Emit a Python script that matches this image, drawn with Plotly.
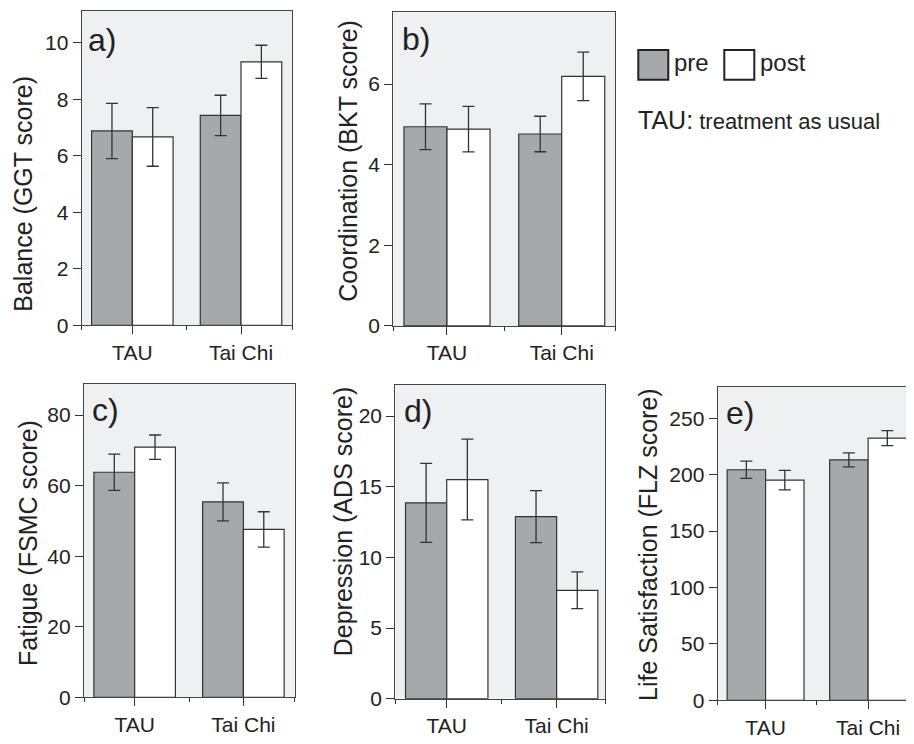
import plotly.graph_objects as go

W, H = 914, 744
OFF = 8  # page body margin compensation

categories = ["TAU", "Tai Chi"]
cat_pos = [0, 1]

# panel values: pre/post means and error half-widths
bal_pre = [6.88, 7.43]
bal_pre_err = [0.98, 0.715]
bal_post = [6.67, 9.33]
bal_post_err = [1.04, 0.585]

coo_pre = [4.94, 4.76]
coo_pre_err = [0.565, 0.44]
coo_post = [4.88, 6.19]
coo_post_err = [0.565, 0.60]

fat_pre = [63.8, 55.4]
fat_pre_err = [5.15, 5.4]
fat_post = [70.9, 47.6]
fat_post_err = [3.45, 5.0]

dep_pre = [13.86, 12.89]
dep_pre_err = [2.8, 1.84]
dep_post = [15.51, 7.67]
dep_post_err = [2.86, 1.3]

lif_pre = [204.3, 213.1]
lif_pre_err = [7.7, 6.2]
lif_post = [195.1, 232.3]
lif_post_err = [8.6, 6.7]

panels = [
    dict(label="a)", title="Balance (GGT score)", pre=bal_pre, pre_err=bal_pre_err,
         post=bal_post, post_err=bal_post_err, yr=11.13, dtick=2,
         px=(81.7, 292.3), py=(11, 330), xr=(-0.466, 1.472),
         tpos=(23, 196.5), lpos=(86, 40)),
    dict(label="b)", title="Coordination (BKT score)", pre=coo_pre, pre_err=coo_pre_err,
         post=coo_post, post_err=coo_post_err, yr=7.78, dtick=2,
         px=(393.3, 615.3), py=(12.3, 330.7), xr=(-0.468, 1.467),
         tpos=(348, 163), lpos=(400, 39)),
    dict(label="c)", title="Fatigue (FSMC score)", pre=fat_pre, pre_err=fat_pre_err,
         post=fat_post, post_err=fat_post_err, yr=88.9, dtick=20,
         px=(84, 294.7), py=(389.3, 707.7), xr=(-0.466, 1.472),
         tpos=(28, 551), lpos=(90, 416)),
    dict(label="d)", title="Depression (ADS score)", pre=dep_pre, pre_err=dep_pre_err,
         post=dep_post, post_err=dep_post_err, yr=22.2, dtick=5,
         px=(395.3, 605), py=(390.7, 709), xr=(-0.468, 1.44),
         tpos=(343, 529), lpos=(402, 417)),
    dict(label="e)", title="Life Satisfaction (FLZ score)", pre=lif_pre, pre_err=lif_pre_err,
         post=lif_post, post_err=lif_post_err, yr=277.6, dtick=50,
         px=(717.7, 916.0), py=(392.7, 710.7), xr=(-0.467, 1.467),
         tpos=(648, 553), lpos=(724, 419)),
]


def fx(px):
    return (px - OFF) / W


def fy(py):
    return 1 - (py - OFF) / H


FONT = "Liberation Sans, Arial, Helvetica, sans-serif"
TXT = "#222222"
PRE_FILL = "#a7a8ac"
POST_FILL = "#ffffff"
EDGE = "#333333"
FRAME = "#444444"
BG = "#eff0f2"

fig = go.Figure()
annotations = []
shapes = []

for i, p in enumerate(panels, start=1):
    xa = "x" if i == 1 else f"x{i}"
    ya = "y" if i == 1 else f"y{i}"
    for vals, errs, fill, name in [(p["pre"], p["pre_err"], PRE_FILL, "pre"),
                                   (p["post"], p["post_err"], POST_FILL, "post")]:
        fig.add_trace(go.Bar(
            x=cat_pos, y=vals, name=name, showlegend=False,
            marker=dict(color=fill, line=dict(color=EDGE, width=1.2)),
            error_y=dict(type="data", array=errs, visible=True,
                         color=EDGE, thickness=1.3, width=6),
            offsetgroup=name, xaxis=xa, yaxis=ya,
        ))
    x0, x1 = fx(p["px"][0]), min(fx(p["px"][1]), 1.0)
    y0, y1 = fy(p["py"][1]), fy(p["py"][0])
    axkey = "xaxis" if i == 1 else f"xaxis{i}"
    aykey = "yaxis" if i == 1 else f"yaxis{i}"
    fig.update_layout(**{
        axkey: dict(domain=[x0, x1], anchor=ya, range=list(p["xr"]),
                    tickvals=cat_pos, ticktext=categories, ticks="outside",
                    ticklen=8, tickwidth=1.2, tickcolor=EDGE,
                    minor=dict(tickvals=[p["xr"][0], 0.5, p["xr"][1]], ticks="outside",
                               ticklen=4, tickwidth=1.2, tickcolor=EDGE),
                    showline=True, linecolor=FRAME, linewidth=1.2, mirror=True,
                    showgrid=False, zeroline=False, fixedrange=True,
                    tickfont=dict(family=FONT, size=21, color=TXT)),
        aykey: dict(domain=[y0, y1], anchor=xa, range=[0, p["yr"]],
                    dtick=p["dtick"], tick0=0, ticks="outside", ticklen=8,
                    tickwidth=1.2, tickcolor=EDGE,
                    showline=True, linecolor=FRAME, linewidth=1.2, mirror=True,
                    showgrid=False, zeroline=False, fixedrange=True,
                    tickfont=dict(family=FONT, size=21, color=TXT)),
    })
    shapes.append(dict(type="rect", xref="paper", yref="paper",
                       x0=x0, x1=x1, y0=y0, y1=y1, fillcolor=BG,
                       line=dict(width=0), layer="below"))
    annotations.append(dict(text=p["title"], textangle=-90, xref="paper", yref="paper",
                            x=fx(p["tpos"][0]), y=fy(p["tpos"][1]),
                            xanchor="center", yanchor="middle", showarrow=False,
                            font=dict(family=FONT, size=25, color=TXT)))
    annotations.append(dict(text=p["label"], xref="paper", yref="paper",
                            x=fx(p["lpos"][0]), y=fy(p["lpos"][1]),
                            xanchor="left", yanchor="middle", showarrow=False,
                            font=dict(family=FONT, size=32, color=TXT)))

# legend swatches
shapes.append(dict(type="rect", xref="paper", yref="paper",
                   x0=fx(638.3), x1=fx(668.3), y0=fy(80.7), y1=fy(50.7),
                   fillcolor=PRE_FILL, line=dict(color="#222", width=2)))
shapes.append(dict(type="rect", xref="paper", yref="paper",
                   x0=fx(724.3), x1=fx(754.3), y0=fy(80.7), y1=fy(50.7),
                   fillcolor=POST_FILL, line=dict(color="#222", width=2)))
annotations.append(dict(text="pre", xref="paper", yref="paper", x=fx(672), y=fy(63),
                        xanchor="left", yanchor="middle", showarrow=False,
                        font=dict(family=FONT, size=24, color=TXT)))
annotations.append(dict(text="post", xref="paper", yref="paper", x=fx(758), y=fy(63),
                        xanchor="left", yanchor="middle", showarrow=False,
                        font=dict(family=FONT, size=24, color=TXT)))
annotations.append(dict(text="<span style='font-size:25px'>TAU:</span> treatment as usual",
                        xref="paper", yref="paper", x=fx(636), y=fy(122),
                        xanchor="left", yanchor="middle", showarrow=False,
                        font=dict(family=FONT, size=22, color=TXT)))

fig.update_layout(
    width=W, height=H, margin=dict(l=0, r=0, t=0, b=0),
    paper_bgcolor="white", plot_bgcolor="rgba(0,0,0,0)",
    barmode="group", bargap=0.25, bargroupgap=0,
    shapes=shapes, annotations=annotations, showlegend=False,
)

fig.write_html("out.html")
